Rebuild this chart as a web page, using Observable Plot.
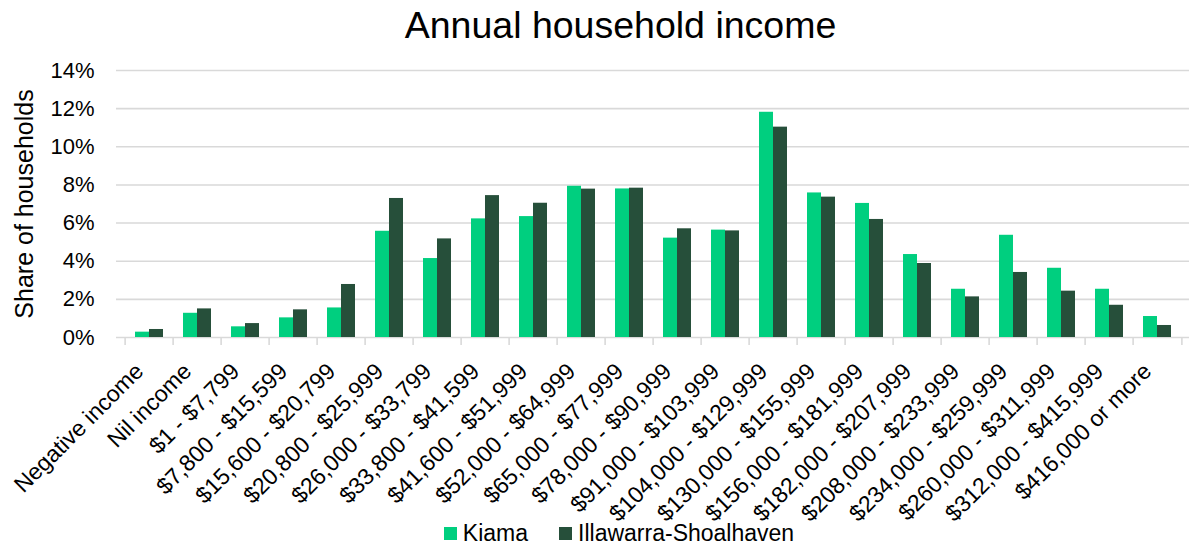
<!DOCTYPE html>
<html>
<head>
<meta charset="utf-8">
<script src="https://cdn.jsdelivr.net/npm/d3@7"></script>
<script src="https://cdn.jsdelivr.net/npm/@observablehq/plot@0.6"></script>
<style>
  html, body { margin: 0; padding: 0; background: #fff; }
  body { width: 1191px; height: 544px; overflow: hidden; font-family: "Liberation Sans", Arial, sans-serif; color: #000; }
  #title { height: 50px; line-height: 50px; text-align: center; font-size: 37.5px; padding-left: 50px; }
  #chart svg { display: block; }
  #legend { height: 22px; display: flex; justify-content: center; align-items: center; font-size: 23px; line-height: 22px; padding-left: 78px; }
  .item { display: flex; align-items: center; margin-right: 31px; }
  .sw { width: 13px; height: 13px; margin-right: 6px; }
</style>
</head>
<body>
<div id="title">Annual household income</div>
<div id="chart"></div>
<div id="legend"></div>
<script>
const categories = [
  "Negative income", "Nil income", "$1 - $7,799", "$7,800 - $15,599", "$15,600 - $20,799",
  "$20,800 - $25,999", "$26,000 - $33,799", "$33,800 - $41,599", "$41,600 - $51,999",
  "$52,000 - $64,999", "$65,000 - $77,999", "$78,000 - $90,999", "$91,000 - $103,999",
  "$104,000 - $129,999", "$130,000 - $155,999", "$156,000 - $181,999", "$182,000 - $207,999",
  "$208,000 - $233,999", "$234,000 - $259,999", "$260,000 - $311,999", "$312,000 - $415,999",
  "$416,000 or more"
];
const kiama = [0.28, 1.27, 0.56, 1.03, 1.55, 5.57, 4.14, 6.22, 6.34, 7.93, 7.79, 5.21, 5.63, 11.81, 7.58, 7.03, 4.35, 2.53, 5.36, 3.63, 2.53, 1.10];
const illawarra = [0.42, 1.50, 0.73, 1.45, 2.78, 7.29, 5.17, 7.44, 7.04, 7.78, 7.83, 5.70, 5.59, 11.03, 7.36, 6.19, 3.88, 2.13, 3.41, 2.43, 1.69, 0.63];
const seriesNames = ["Kiama", "Illawarra-Shoalhaven"];
const seriesColors = ["#00cf7f", "#264f3a"];
const yTicks = [0, 2, 4, 6, 8, 10, 12, 14];

const rowsK = categories.map((c, i) => ({category: c, value: kiama[i]}));
const rowsI = categories.map((c, i) => ({category: c, value: illawarra[i]}));

const W = 1191, mL = 116, mR = 2;
const step = (W - mL - mR) / categories.length;
const half = step * (1 - 0.426) / 2;

const chart = Plot.plot({
  width: W,
  height: 472,
  marginTop: 20,
  marginBottom: 185,
  marginLeft: mL,
  marginRight: mR,
  style: {fontFamily: "'Liberation Sans', Arial, sans-serif", color: "#000", background: "#fff", overflow: "visible"},
  x: {domain: categories, paddingInner: 0.426, paddingOuter: 0.213, label: null},
  y: {domain: [0, 14], ticks: yTicks, label: null},
  marks: [
    Plot.gridY(yTicks, {stroke: "#d9d9d9", strokeOpacity: 1, strokeWidth: 1.6}),
    Plot.barY(rowsK, {x: "category", y: "value", fill: seriesColors[0], insetRight: half}),
    Plot.barY(rowsI, {x: "category", y: "value", fill: seriesColors[1], insetLeft: half}),
    Plot.ruleX(categories, {x: d => d, y1: 0, y2: 0, dx: -step / 2, insetBottom: -8, stroke: "#d9d9d9", strokeWidth: 1.6}),
    Plot.ruleX(categories.slice(-1), {x: d => d, y1: 0, y2: 0, dx: step / 2, insetBottom: -8, stroke: "#d9d9d9", strokeWidth: 1.6}),
    Plot.axisY({ticks: yTicks, tickFormat: d => d + "%", tickSize: 0, tickPadding: 22, fontSize: 22, label: null}),
    Plot.axisX({tickRotate: -45, tickSize: 0, tickPadding: 30, dx: -10, fontSize: 23, label: null}),
    Plot.text(["Share of households"], {text: d => d, frameAnchor: "left", textAnchor: "middle", lineAnchor: "middle", dx: -92, rotate: -90, fontSize: 25, fill: "#000"})
  ]
});
document.getElementById("chart").appendChild(chart);

const legend = document.getElementById("legend");
seriesNames.forEach((name, i) => {
  const item = document.createElement("div");
  item.className = "item";
  const sw = document.createElement("div");
  sw.className = "sw";
  sw.style.background = seriesColors[i];
  const label = document.createElement("span");
  label.textContent = name;
  item.appendChild(sw);
  item.appendChild(label);
  legend.appendChild(item);
});
</script>
</body>
</html>
